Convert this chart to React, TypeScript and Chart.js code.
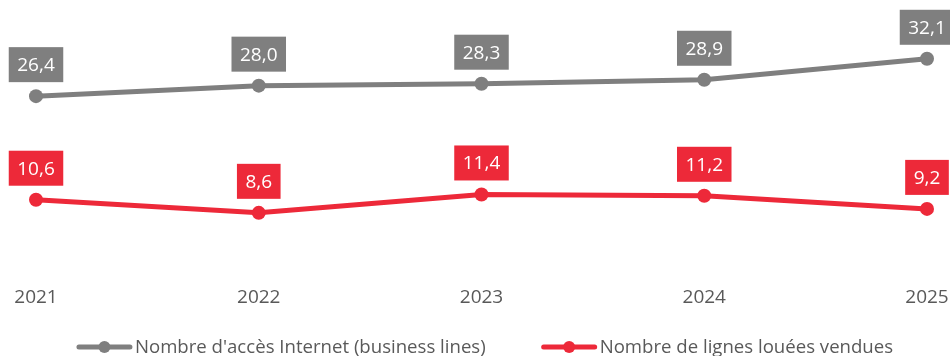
import React, { useEffect, useRef } from "react";
import { Chart, registerables } from "chart.js";

Chart.register(...registerables);

const years = ["2021", "2022", "2023", "2024", "2025"];
const internetAccess = [26.4, 28.0, 28.3, 28.9, 32.1];
const leasedLines = [10.6, 8.6, 11.4, 11.2, 9.2];
const seriesNames = [
  "Nombre d'accès Internet (business lines)",
  "Nombre de lignes louées vendues",
];

const GRAY = "#7F7F7F";
const RED = "#ED2939";
const TEXT = "#595959";
const FONT = "'Open Sans', 'Noto Sans', sans-serif";

const fmt = (v: number) => v.toFixed(1).replace(".", ",");

const labelBoxPlugin = {
  id: "labelBoxes",
  afterDatasetsDraw(chart: any) {
    const ctx = chart.ctx;
    ctx.save();
    ctx.font = `19px ${FONT}`;
    ctx.textAlign = "center";
    ctx.textBaseline = "middle";
    chart.data.datasets.forEach((ds: any, i: number) => {
      const meta = chart.getDatasetMeta(i);
      meta.data.forEach((pt: any, j: number) => {
        const text = fmt(ds.data[j]);
        const w = ctx.measureText(text).width + 17;
        const h = 35;
        const bottom = pt.y - 14;
        ctx.fillStyle = ds.borderColor;
        ctx.fillRect(pt.x - w / 2, bottom - h, w, h);
        ctx.fillStyle = "#FFFFFF";
        ctx.fillText(text, pt.x, bottom - h / 2 + 1);
      });
    });
    ctx.restore();
  },
};

const legendPlugin = {
  id: "customLegend",
  afterDraw(chart: any) {
    const ctx = chart.ctx;
    ctx.save();
    ctx.font = `18.6px ${FONT}`;
    ctx.textBaseline = "middle";
    ctx.textAlign = "left";
    const symW = 55;
    const gap = 3;
    const itemGap = 56;
    const items = chart.data.datasets.map((ds: any) => ({
      text: ds.label,
      color: ds.borderColor,
      w: ctx.measureText(ds.label).width,
    }));
    const total =
      items.reduce((s: number, it: any) => s + symW + gap + it.w, 0) +
      itemGap * (items.length - 1);
    let x = chart.width / 2 + 10 - total / 2;
    const y = 347;
    items.forEach((it: any) => {
      ctx.strokeStyle = it.color;
      ctx.lineWidth = 5;
      ctx.lineCap = "round";
      ctx.beginPath();
      ctx.moveTo(x + 2, y);
      ctx.lineTo(x + symW - 2, y);
      ctx.stroke();
      ctx.fillStyle = it.color;
      ctx.beginPath();
      ctx.arc(x + symW / 2, y, 6, 0, Math.PI * 2);
      ctx.fill();
      ctx.fillStyle = TEXT;
      ctx.fillText(it.text, x + symW + gap, y + 1);
      x += symW + gap + it.w + itemGap;
    });
    ctx.restore();
  },
};

export default function App() {
  const ref = useRef<HTMLCanvasElement | null>(null);
  useEffect(() => {
    document.body.style.margin = "0";
    if (!ref.current) return;
    const chart = new Chart(ref.current, {
      type: "line",
      data: {
        labels: years,
        datasets: [
          {
            label: seriesNames[0],
            data: internetAccess,
            borderColor: GRAY,
            backgroundColor: GRAY,
            borderWidth: 5,
            pointRadius: 7,
            pointBackgroundColor: GRAY,
            pointBorderWidth: 0,
            tension: 0,
          },
          {
            label: seriesNames[1],
            data: leasedLines,
            borderColor: RED,
            backgroundColor: RED,
            borderWidth: 5,
            pointRadius: 7,
            pointBackgroundColor: RED,
            pointBorderWidth: 0,
            tension: 0,
          },
        ],
      },
      options: {
        animation: false,
        responsive: true,
        maintainAspectRatio: false,
        layout: { padding: { left: 36, right: 0, top: 6, bottom: 38 } },
        plugins: {
          legend: { display: false },
          tooltip: { enabled: false },
        },
        scales: {
          x: {
            offset: false,
            grid: { display: false },
            border: { display: false },
            afterFit: (scale: any) => {
              scale.paddingLeft = 0;
              scale.paddingRight = 23;
            },
            ticks: {
              color: TEXT,
              font: { family: FONT, size: 19 },
              padding: 9,
              maxRotation: 0,
            },
          },
          y: {
            display: false,
            min: 0,
            max: 40,
          },
        },
      },
      plugins: [labelBoxPlugin, legendPlugin],
    });
    return () => chart.destroy();
  }, []);
  return (
    <div style={{ position: "fixed", left: 0, top: 0, width: 950, height: 356 }}>
      <canvas ref={ref} />
    </div>
  );
}
